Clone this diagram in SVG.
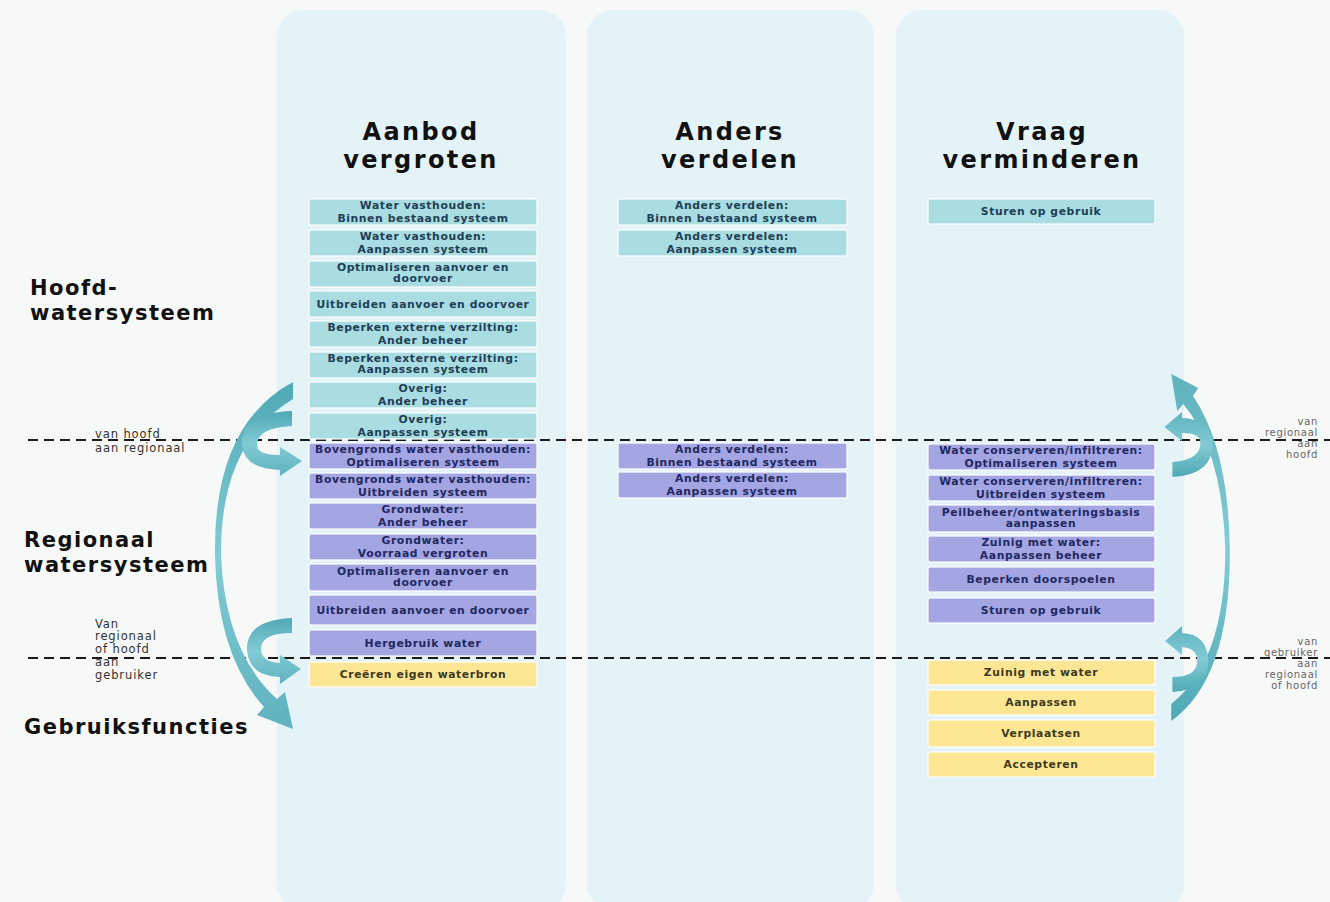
<svg xmlns="http://www.w3.org/2000/svg" width="1330" height="902" viewBox="0 0 1330 902">
<defs>
<style>
.panel{fill:#e4f3f8;}
.title{font-family:"DejaVu Sans",Verdana,sans-serif;font-weight:bold;font-size:24px;fill:#111;text-anchor:middle;letter-spacing:2.4px;}
.lvl{font-family:"DejaVu Sans",Verdana,sans-serif;font-weight:bold;font-size:21px;fill:#111;letter-spacing:1.5px;}
.small{font-family:"DejaVu Sans",Verdana,sans-serif;font-size:11.5px;fill:#333;letter-spacing:0.9px;}
.rsmall{font-family:"DejaVu Sans",Verdana,sans-serif;font-size:10px;fill:#666;text-anchor:end;letter-spacing:0.7px;}
.t{fill:#a9dde1;stroke:#ffffff;stroke-opacity:0.8;stroke-width:1.5;}
.p{fill:#a3a6e2;stroke:#ffffff;stroke-opacity:0.8;stroke-width:1.5;}
.y{fill:#fde795;stroke:#ffffff;stroke-opacity:0.8;stroke-width:1.5;}
.bt{font-family:"DejaVu Sans",Verdana,sans-serif;font-weight:bold;font-size:10.8px;text-anchor:middle;letter-spacing:0.6px;}
.tt{fill:#1d3d55;}
.pt{fill:#22275f;}
.yt{fill:#3d3a1c;}
.dash{stroke:#1a1a1a;stroke-width:2;stroke-dasharray:10 6;fill:none;}
.arr{fill:url(#ag);}
</style>
<linearGradient id="ag" x1="0" y1="0" x2="0" y2="1">
<stop offset="0" stop-color="#4fa9b6"/>
<stop offset="0.5" stop-color="#82cbd4"/>
<stop offset="1" stop-color="#5fb2bf"/>
</linearGradient>
</defs>
<rect x="0" y="0" width="1330" height="902" fill="#f7f8f8"/>
<g id="panels">
<rect class="panel" x="277" y="10" width="289" height="900" rx="26"/>
<rect class="panel" x="587" y="10" width="287" height="900" rx="26"/>
<rect class="panel" x="896" y="10" width="288" height="900" rx="26"/>
</g>
<g id="titles">
<text class="title" x="421" y="140">Aanbod</text>
<text class="title" x="421" y="168">vergroten</text>
<text class="title" x="730" y="140">Anders</text>
<text class="title" x="730" y="168">verdelen</text>
<text class="title" x="1042" y="140">Vraag</text>
<text class="title" x="1042" y="168">verminderen</text>
</g>
<g id="levels">
<text class="lvl" x="30" y="295">Hoofd-</text>
<text class="lvl" x="30" y="320">watersysteem</text>
<text class="lvl" x="24" y="547">Regionaal</text>
<text class="lvl" x="24" y="572">watersysteem</text>
<text class="lvl" x="24" y="734">Gebruiksfuncties</text>
<text class="small" x="95" y="438">van hoofd</text>
<text class="small" x="95" y="452">aan regionaal</text>
<text class="small" x="95" y="628">Van</text>
<text class="small" x="95" y="640">regionaal</text>
<text class="small" x="95" y="653">of hoofd</text>
<text class="small" x="95" y="666">aan</text>
<text class="small" x="95" y="679">gebruiker</text>
<text class="rsmall" x="1318" y="425">van</text>
<text class="rsmall" x="1318" y="436">regionaal</text>
<text class="rsmall" x="1318" y="447">aan</text>
<text class="rsmall" x="1318" y="458">hoofd</text>
<text class="rsmall" x="1318" y="645">van</text>
<text class="rsmall" x="1318" y="656">gebruiker</text>
<text class="rsmall" x="1318" y="667">aan</text>
<text class="rsmall" x="1318" y="678">regionaal</text>
<text class="rsmall" x="1318" y="689">of hoofd</text>
</g>
<g id="dividers">
<line class="dash" x1="28" y1="440" x2="1330" y2="440"/>
<line class="dash" x1="28" y1="658" x2="1330" y2="658"/>
</g>
<g id="col1">
<g id="n1"><rect class="t" x="309" y="199" width="228" height="26" rx="2"/><text class="bt tt" x="423" y="209">Water vasthouden:</text><text class="bt tt" x="423" y="222">Binnen bestaand systeem</text></g>
<g id="n2"><rect class="t" x="309" y="230" width="228" height="26" rx="2"/><text class="bt tt" x="423" y="240">Water vasthouden:</text><text class="bt tt" x="423" y="253">Aanpassen systeem</text></g>
<g id="n3"><rect class="t" x="309" y="261" width="228" height="26" rx="2"/><text class="bt tt" x="423" y="271">Optimaliseren aanvoer en</text><text class="bt tt" x="423" y="282">doorvoer</text></g>
<g id="n4"><rect class="t" x="309" y="291" width="228" height="26" rx="2"/><text class="bt tt" x="423" y="308">Uitbreiden aanvoer en doorvoer</text></g>
<g id="n5"><rect class="t" x="309" y="321" width="228" height="26" rx="2"/><text class="bt tt" x="423" y="331">Beperken externe verzilting:</text><text class="bt tt" x="423" y="344">Ander beheer</text></g>
<g id="n6"><rect class="t" x="309" y="352" width="228" height="26" rx="2"/><text class="bt tt" x="423" y="362">Beperken externe verzilting:</text><text class="bt tt" x="423" y="373">Aanpassen systeem</text></g>
<g id="n7"><rect class="t" x="309" y="382" width="228" height="26" rx="2"/><text class="bt tt" x="423" y="392">Overig:</text><text class="bt tt" x="423" y="405">Ander beheer</text></g>
<g id="n8"><rect class="t" x="309" y="413" width="228" height="26" rx="2"/><text class="bt tt" x="423" y="423">Overig:</text><text class="bt tt" x="423" y="436">Aanpassen systeem</text></g>
<g id="n9"><rect class="p" x="309" y="443" width="228" height="26" rx="2"/><text class="bt pt" x="423" y="453">Bovengronds water vasthouden:</text><text class="bt pt" x="423" y="466">Optimaliseren systeem</text></g>
<g id="n10"><rect class="p" x="309" y="473" width="228" height="26" rx="2"/><text class="bt pt" x="423" y="483">Bovengronds water vasthouden:</text><text class="bt pt" x="423" y="496">Uitbreiden systeem</text></g>
<g id="n11"><rect class="p" x="309" y="503" width="228" height="26" rx="2"/><text class="bt pt" x="423" y="513">Grondwater:</text><text class="bt pt" x="423" y="526">Ander beheer</text></g>
<g id="n12"><rect class="p" x="309" y="534" width="228" height="26" rx="2"/><text class="bt pt" x="423" y="544">Grondwater:</text><text class="bt pt" x="423" y="557">Voorraad vergroten</text></g>
<g id="n13"><rect class="p" x="309" y="564" width="228" height="27" rx="2"/><text class="bt pt" x="423" y="575">Optimaliseren aanvoer en</text><text class="bt pt" x="423" y="586">doorvoer</text></g>
<g id="n14"><rect class="p" x="309" y="595" width="228" height="30" rx="2"/><text class="bt pt" x="423" y="614">Uitbreiden aanvoer en doorvoer</text></g>
<g id="n15"><rect class="p" x="309" y="630" width="228" height="26" rx="2"/><text class="bt pt" x="423" y="647">Hergebruik water</text></g>
<g id="n16"><rect class="y" x="309" y="662" width="228" height="25" rx="2"/><text class="bt yt" x="423" y="678">Creëren eigen waterbron</text></g>
</g>
<g id="col2">
<g id="n17"><rect class="t" x="618" y="199" width="229" height="26" rx="2"/><text class="bt tt" x="732" y="209">Anders verdelen:</text><text class="bt tt" x="732" y="222">Binnen bestaand systeem</text></g>
<g id="n18"><rect class="t" x="618" y="230" width="229" height="26" rx="2"/><text class="bt tt" x="732" y="240">Anders verdelen:</text><text class="bt tt" x="732" y="253">Aanpassen systeem</text></g>
<g id="n19"><rect class="p" x="618" y="443" width="229" height="26" rx="2"/><text class="bt pt" x="732" y="453">Anders verdelen:</text><text class="bt pt" x="732" y="466">Binnen bestaand systeem</text></g>
<g id="n20"><rect class="p" x="618" y="472" width="229" height="26" rx="2"/><text class="bt pt" x="732" y="482">Anders verdelen:</text><text class="bt pt" x="732" y="495">Aanpassen systeem</text></g>
</g>
<g id="col3">
<g id="n21"><rect class="t" x="928" y="199" width="227" height="25" rx="2"/><text class="bt tt" x="1041" y="215">Sturen op gebruik</text></g>
<g id="n22"><rect class="p" x="928" y="444" width="227" height="26" rx="2"/><text class="bt pt" x="1041" y="454">Water conserveren/infiltreren:</text><text class="bt pt" x="1041" y="467">Optimaliseren systeem</text></g>
<g id="n23"><rect class="p" x="928" y="475" width="227" height="26" rx="2"/><text class="bt pt" x="1041" y="485">Water conserveren/infiltreren:</text><text class="bt pt" x="1041" y="498">Uitbreiden systeem</text></g>
<g id="n24"><rect class="p" x="928" y="505" width="227" height="27" rx="2"/><text class="bt pt" x="1041" y="516">Peilbeheer/ontwateringsbasis</text><text class="bt pt" x="1041" y="527">aanpassen</text></g>
<g id="n25"><rect class="p" x="928" y="536" width="227" height="26" rx="2"/><text class="bt pt" x="1041" y="546">Zuinig met water:</text><text class="bt pt" x="1041" y="559">Aanpassen beheer</text></g>
<g id="n26"><rect class="p" x="928" y="567" width="227" height="25" rx="2"/><text class="bt pt" x="1041" y="583">Beperken doorspoelen</text></g>
<g id="n27"><rect class="p" x="928" y="598" width="227" height="25" rx="2"/><text class="bt pt" x="1041" y="614">Sturen op gebruik</text></g>
<g id="n28"><rect class="y" x="928" y="660" width="227" height="25" rx="2"/><text class="bt yt" x="1041" y="676">Zuinig met water</text></g>
<g id="n29"><rect class="y" x="928" y="690" width="227" height="25" rx="2"/><text class="bt yt" x="1041" y="706">Aanpassen</text></g>
<g id="n30"><rect class="y" x="928" y="720" width="227" height="27" rx="2"/><text class="bt yt" x="1041" y="737">Verplaatsen</text></g>
<g id="n31"><rect class="y" x="928" y="752" width="227" height="25" rx="2"/><text class="bt yt" x="1041" y="768">Accepteren</text></g>
</g>
<g id="connectors">
<path id="longL" class="arr" d="M 293,382 Q 213,425 215,555 Q 217,655 264,707 L 257,715 L 293,729 L 285,692 L 277,699 Q 225,652 221,555 Q 220,443 293,399 Z"/>
<path id="cL1" class="arr" d="M 292,411 Q 240,413 242,446 Q 245,469 280,470 L 280,476 L 302,461 L 280,447 L 280,455 Q 258,455 257,446 Q 256,428 292,426 Z"/>
<path id="cL2" class="arr" d="M 292,618 Q 246,620 247,650 Q 249,676 280,677 L 280,684 L 301,669 L 280,655 L 280,663 Q 262,662 261,650 Q 260,633 292,633 Z"/>
<path id="longR" class="arr" transform="matrix(-0.75,0,0,-1,1391,1103)" d="M 293,382 Q 213,425 215,555 Q 217,655 264,707 L 257,715 L 293,729 L 285,692 L 277,699 Q 225,652 221,555 Q 220,443 293,399 Z"/>
<path id="cR1" class="arr" transform="matrix(-0.8,0,0,-1,1406,888)" d="M 292,411 Q 240,413 242,446 Q 245,469 280,470 L 280,476 L 302,461 L 280,447 L 280,455 Q 258,455 257,446 Q 256,428 292,426 Z"/>
<path id="cR2" class="arr" transform="matrix(-0.8,0,0,-1,1406,1310)" d="M 292,618 Q 246,620 247,650 Q 249,676 280,677 L 280,684 L 301,669 L 280,655 L 280,663 Q 262,662 261,650 Q 260,633 292,633 Z"/>
</g>
</svg>
